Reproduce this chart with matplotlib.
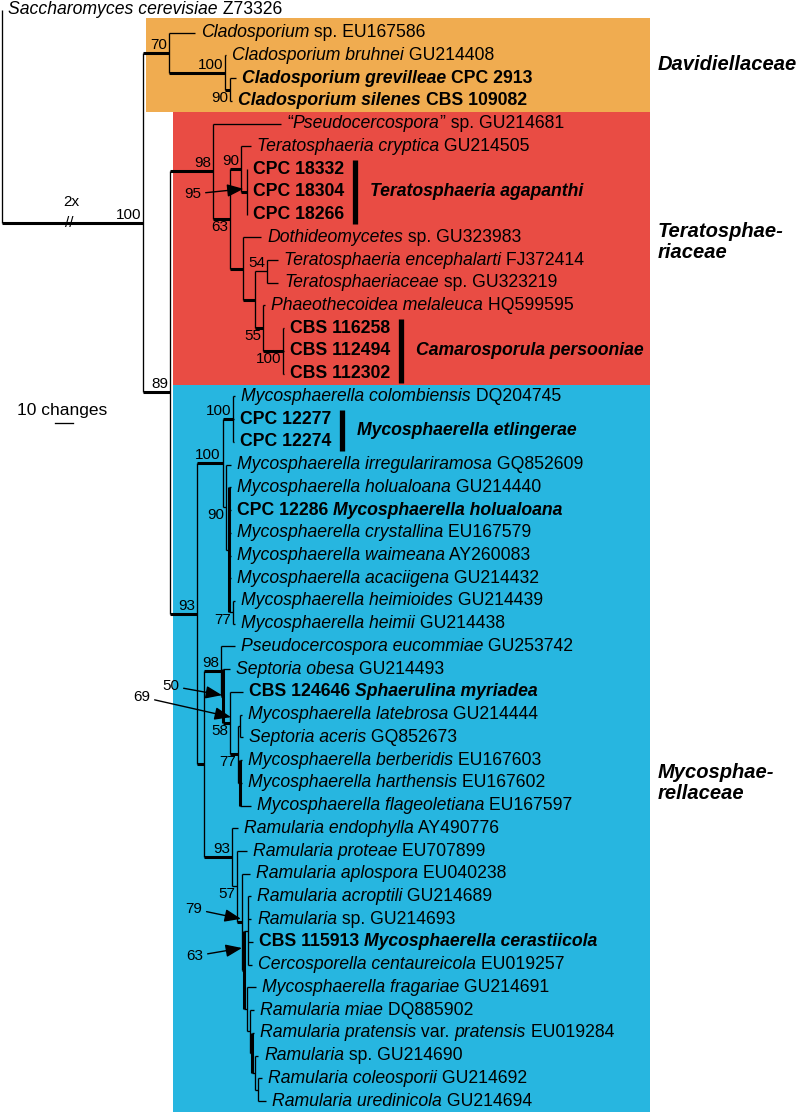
import re
import matplotlib
matplotlib.use("Agg")
import matplotlib.pyplot as plt
from matplotlib.font_manager import FontProperties
from matplotlib.patches import Rectangle

# tip labels, top to bottom (*italic*, **bold**, ***bold italic***)
tip_labels = [
    "*Saccharomyces cerevisiae* Z73326",
    "*Cladosporium* sp. EU167586",
    "*Cladosporium bruhnei* GU214408",
    "***Cladosporium grevilleae*** **CPC 2913**",
    "***Cladosporium silenes*** **CBS 109082**",
    "“*Pseudocercospora*” sp. GU214681",
    "*Teratosphaeria cryptica* GU214505",
    "**CPC 18332**",
    "**CPC 18304**",
    "**CPC 18266**",
    "*Dothideomycetes* sp. GU323983",
    "*Teratosphaeria encephalarti* FJ372414",
    "*Teratosphaeriaceae* sp. GU323219",
    "*Phaeothecoidea melaleuca* HQ599595",
    "**CBS 116258**",
    "**CBS 112494**",
    "**CBS 112302**",
    "*Mycosphaerella colombiensis* DQ204745",
    "**CPC 12277**",
    "**CPC 12274**",
    "*Mycosphaerella irregulariramosa* GQ852609",
    "*Mycosphaerella holualoana* GU214440",
    "**CPC 12286** ***Mycosphaerella holualoana***",
    "*Mycosphaerella crystallina* EU167579",
    "*Mycosphaerella waimeana* AY260083",
    "*Mycosphaerella acaciigena* GU214432",
    "*Mycosphaerella heimioides* GU214439",
    "*Mycosphaerella heimii* GU214438",
    "*Pseudocercospora eucommiae* GU253742",
    "*Septoria obesa* GU214493",
    "**CBS 124646** ***Sphaerulina myriadea***",
    "*Mycosphaerella latebrosa* GU214444",
    "*Septoria aceris* GQ852673",
    "*Mycosphaerella berberidis* EU167603",
    "*Mycosphaerella harthensis* EU167602",
    "*Mycosphaerella flageoletiana* EU167597",
    "*Ramularia endophylla* AY490776",
    "*Ramularia proteae* EU707899",
    "*Ramularia aplospora* EU040238",
    "*Ramularia acroptili* GU214689",
    "*Ramularia* sp. GU214693",
    "**CBS 115913** ***Mycosphaerella cerastiicola***",
    "*Cercosporella centaureicola* EU019257",
    "*Mycosphaerella fragariae* GU214691",
    "*Ramularia miae* DQ885902",
    "*Ramularia pratensis* var. *pratensis* EU019284",
    "*Ramularia* sp. GU214690",
    "*Ramularia coleosporii* GU214692",
    "*Ramularia uredinicola* GU214694",
]

# distance from the left edge where each tip branch ends (tree units)
tip_depth = [2, 195, 226, 236, 232,
             281, 251, 247, 247, 247,
             261, 278, 278, 265, 284, 284, 284,
             235, 234, 234, 231, 231, 231, 231, 231, 231, 235, 235,
             235, 230, 243, 242, 243, 242, 242, 251,
             238, 247, 250, 251, 251, 253, 252, 256, 254, 254, 258, 262, 266]

# internal nodes: name -> (depth, children); int child = tip index
nodes = {
    "root": (2, [0, "ingroup"]),
    "ingroup": (143, ["david", "n89"]),
    "david": (169, [1, "cladA"]),
    "cladA": (225, [2, "cladB"]),
    "cladB": (230, [3, 4]),
    "n89": (170, ["terat", "myco"]),
    "terat": (213, [5, "tA"]),
    "tA": (230, ["tB", "tC"]),
    "tB": (241, [6, "agap"]),
    "agap": (246.5, [7, 8, 9]),
    "tC": (243, [10, "tD"]),
    "tD": (255, ["tE", "tF"]),
    "tE": (267, [11, 12]),
    "tF": (263, [13, "tG"]),
    "tG": (283, [14, 15, 16]),
    "myco": (197, ["mI", "mJ"]),
    "mI": (222.5, ["mK", "mL"]),
    "mK": (233, [17, 18, 19]),
    "mL": (226, [20, "mM"]),
    "mM": (229, [21, 22, 23, 24, 25, "m77"]),
    "m77": (233, [26, 27]),
    "mJ": (204, ["mP", "mQ"]),
    "mP": (221, [28, "mU"]),
    "mU": (223, [29, "mR"]),
    "mR": (230, [30, "mS"]),
    "mS": (238, ["mT1", "mT2"]),
    "mT1": (240, [31, 32]),
    "mT2": (240, [33, 34, 35]),
    "mQ": (232, [36, "mV"]),
    "mV": (237, [37, "mW"]),
    "mW": (242, [38, "mX"]),
    "mX": (244, ["mY", "mZ"]),
    "mY": (248, [39, 40, 41, 42]),
    "mZ": (247, [43, "mZ2"]),
    "mZ2": (250, [44, "mZ3"]),
    "mZ3": (252, [45, "mZ4"]),
    "mZ4": (255, [46, "mZ5"]),
    "mZ5": (258, [47, 48]),
}

# bootstrap values next to their node
support_nodes = ["ingroup", "david", "cladA", "cladB", "n89", "terat", "tA", "tB",
                 "tE", "tF", "tG", "myco", "mI", "mK", "mL", "m77", "mP", "mR",
                 "mS", "mQ", "mV"]
support_values = ["100", "70", "100", "90", "89", "98", "63", "90",
                  "54", "55", "100", "93", "100", "100", "90", "77", "98", "58",
                  "77", "93", "57"]
support_below = {"cladB", "tA", "tF", "tG", "mL", "m77", "mR", "mS", "mV"}

# bootstrap values placed with an arrow
arrow_values = ["95", "50", "69", "79", "63"]
arrow_nodes = ["agap", "mU", "mR", "mW", "mX"]
arrow_text_xy = [(193, 194), (171, 686), (142, 697), (194, 909), (195, 956)]
arrow_offsets = [(-3, -3), (-1, -1), (1, -6), (-1, -3), (-2, -22)]

thick_nodes = {"ingroup", "david", "cladA", "cladB", "terat", "tA", "tB", "agap",
               "tC", "tD", "tF", "tG", "n89", "myco", "mI", "mK", "mJ", "mP",
               "mU", "mR", "mS", "mQ", "mW", "mX"}
thick_vertical = {"mM", "mU", "mX", "mZ3", "mT2"}

clade_names = ["Teratosphaeria agapanthi", "Camarosporula persooniae",
               "Mycosphaerella etlingerae"]
clade_tips = [[7, 8, 9], [14, 15, 16], [18, 19]]

family_names = ["Davidiellaceae", "Teratosphae-\nriaceae", "Mycosphae-\nrellaceae"]
family_y = [64, 242, 783]
box_rows = [(1, 4), (5, 16), (17, 48)]
box_left_node = ["ingroup", "n89", "n89"]
box_colors = ["#F0AC50", "#E94C44", "#27B6E0"]

scale_changes = 10
px_per_change = 1.8

# layout
ROW0, ROWH = 10, 22.73
TIP_FS, SUP_FS, FAM_FS = 12.7, 11, 14.5
THIN, THICK = 0.95, 2.2
FONT = "Liberation Sans"

fig = plt.figure(figsize=(8, 11.12), dpi=100)
ax = fig.add_axes([0, 0, 1, 1])
ax.set_xlim(0, 800)
ax.set_ylim(1112, 0)
ax.axis("off")
renderer = fig.canvas.get_renderer()


def fp(weight="normal", style="normal", size=TIP_FS):
    return FontProperties(family=FONT, weight=weight, style=style, size=size)


def text_width(s, prop):
    w1 = renderer.get_text_width_height_descent("|" + s + "|", prop, ismath=False)[0]
    w0 = renderer.get_text_width_height_descent("||", prop, ismath=False)[0]
    return w1 - w0


def draw_rich(x, y, markup, size=TIP_FS):
    for tok in re.findall(r"\*\*\*.+?\*\*\*|\*\*.+?\*\*|\*.+?\*|[^*]+", markup):
        if tok.startswith("***"):
            s, prop = tok[3:-3], fp("bold", "italic", size)
        elif tok.startswith("**"):
            s, prop = tok[2:-2], fp("bold", "normal", size)
        elif tok.startswith("*"):
            s, prop = tok[1:-1], fp("normal", "italic", size)
        else:
            s, prop = tok, fp(size=size)
        ax.text(x, y, s, fontproperties=prop, ha="left", va="center")
        x += text_width(s, prop)
    return x


tip_y = [ROW0 + i * ROWH for i in range(len(tip_labels))]
pos = {}


def place(name):
    if isinstance(name, int):
        return tip_depth[name], tip_y[name]
    depth, kids = nodes[name]
    ys = [place(k)[1] for k in kids]
    pos[name] = (depth, (ys[0] + ys[-1]) / 2)
    return pos[name]


place("root")


def xy(k):
    return (tip_depth[k], tip_y[k]) if isinstance(k, int) else pos[k]


# coloured family boxes
for (r0, r1), nd, col in zip(box_rows, box_left_node, box_colors):
    top = tip_y[r0] - (14.7 if r0 == 1 else ROWH / 2)
    bot = min(tip_y[r1] + ROWH / 2, 1112)
    left = nodes[nd][0] + 3
    ax.add_patch(Rectangle((left, top), 650 - left, bot - top, color=col, lw=0, zorder=0))

# branches
for name, (depth, kids) in nodes.items():
    px, py = pos[name]
    ys = [xy(k)[1] for k in kids]
    ax.plot([px, px], [min(ys), max(ys)], color="black",
            lw=THICK if name in thick_vertical else THIN, solid_capstyle="butt", zorder=2)
    for k in kids:
        cx, cy = xy(k)
        if cx > px:
            lw = THICK if (not isinstance(k, int) and k in thick_nodes) else THIN
            ax.plot([px, cx], [cy, cy], color="black", lw=lw,
                    solid_capstyle="butt", zorder=2)

# tip labels
label_end = []
for i, lab in enumerate(tip_labels):
    label_end.append(draw_rich(tip_depth[i] + 6, tip_y[i], lab))

# support values
for nd, val in zip(support_nodes, support_values):
    px, py = pos[nd]
    if nd in support_below:
        ax.text(px - 2, py + 1, val, ha="right", va="top", fontproperties=fp(size=SUP_FS))
    else:
        ax.text(px - 2, py - 1, val, ha="right", va="bottom", fontproperties=fp(size=SUP_FS))

for val, nd, txy, (dx, dy) in zip(arrow_values, arrow_nodes, arrow_text_xy, arrow_offsets):
    px, py = pos[nd]
    ax.annotate(val, xy=(px + dx, py + dy), xytext=txy, ha="center", va="center",
                fontproperties=fp(size=SUP_FS),
                arrowprops=dict(arrowstyle="-|>,head_length=0.9,head_width=0.35",
                                color="black", lw=1.0, shrinkA=1, shrinkB=0))

# species bars
for name, tips in zip(clade_names, clade_tips):
    bx = max(label_end[t] for t in tips) + 11
    ax.plot([bx, bx], [tip_y[tips[0]] - 9, tip_y[tips[-1]] + 9], color="black",
            lw=3.8, solid_capstyle="butt")
    ym = (tip_y[tips[0]] + tip_y[tips[-1]]) / 2
    ax.text(bx + 15, ym, name, ha="left", va="center", fontproperties=fp("bold", "italic"))

# family labels
for name, fy in zip(family_names, family_y):
    ax.text(658, fy, name, ha="left", va="center", linespacing=1.1,
            fontproperties=fp("bold", "italic", FAM_FS))

# broken outgroup branch
ax.text(71, 202, "2x", ha="center", va="center", fontproperties=fp(size=SUP_FS))
ax.text(69, pos["ingroup"][1], "//", ha="center", va="center",
        fontproperties=fp(size=SUP_FS), zorder=3)

# scale bar
ax.text(17, 410, f"{scale_changes} changes", ha="left", va="center", fontproperties=fp(size=12.5))
ax.plot([55, 55 + scale_changes * px_per_change], [423, 423], color="black", lw=THIN)

fig.savefig("out.png", dpi=100)
